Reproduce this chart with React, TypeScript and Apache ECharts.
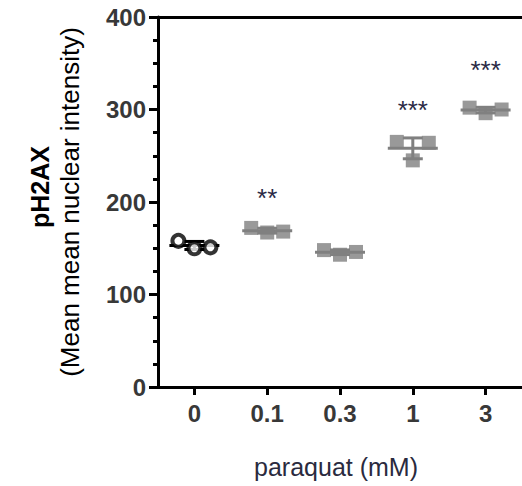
import React, { useEffect, useRef } from "react";
import * as echarts from "echarts";

const categories = ["0", "0.1", "0.3", "1", "3"];
const rep1 = [158, 172, 148, 265, 302];
const rep2 = [150, 167, 143, 245, 296];
const rep3 = [151, 168, 146, 264, 300];
const significance = ["", "**", "", "***", "***"];
const sigLevel = [0, 204, 0, 300, 343];
const yMin = 0;
const yMax = 400;
const yInterval = 100;

const FONT = "'Liberation Sans', Arial, sans-serif";

function stats(i: number) {
  const v = [rep1[i], rep2[i], rep3[i]];
  const m = v.reduce((a, b) => a + b, 0) / v.length;
  const sd = Math.sqrt(v.reduce((a, b) => a + (b - m) * (b - m), 0) / (v.length - 1));
  return [i, m, sd];
}

function pointItem(v: number, i: number) {
  if (i === 0) {
    return {
      value: v,
      symbol: "circle",
      symbolSize: 12,
      itemStyle: { color: "#ffffff", borderColor: "#000000", borderWidth: 4 },
    };
  }
  return {
    value: v,
    symbol: "rect",
    symbolSize: 14,
    itemStyle: { color: "#808080" },
  };
}

export default function App() {
  const ref = useRef<HTMLDivElement>(null);
  useEffect(() => {
    if (!ref.current) return;
    const chart = echarts.init(ref.current, undefined, { renderer: "svg" });
    const reps = [rep1, rep2, rep3];
    const offsets = [-16, 0, 16];
    const scatterSeries = reps.map((r, k) => ({
      type: "scatter",
      xAxisIndex: 0,
      yAxisIndex: 0,
      symbolOffset: [offsets[k], 0],
      data: r.map((v, i) => pointItem(v, i)),
      z: 4,
    }));
    chart.setOption({
      animation: false,
      grid: { left: 158, top: 17, width: 369, height: 370, containLabel: false },
      xAxis: [
        {
          type: "category",
          data: categories,
          boundaryGap: true,
          axisLine: { show: true, lineStyle: { color: "#000", width: 3 } },
          axisTick: { show: true, alignWithLabel: true, length: 8, lineStyle: { color: "#000", width: 3 } },
          axisLabel: { fontFamily: FONT, fontWeight: "bold", fontSize: 24, color: "#383838", margin: 14 },
          splitLine: { show: false },
        },
        {
          type: "category",
          data: categories,
          position: "top",
          axisLine: { show: true, lineStyle: { color: "#000", width: 3 } },
          axisTick: { show: false },
          axisLabel: { show: false },
          splitLine: { show: false },
        },
      ],
      yAxis: {
        type: "value",
        min: yMin,
        max: yMax,
        interval: yInterval,
        axisLine: { show: true, lineStyle: { color: "#000", width: 3 } },
        axisTick: { show: true, length: 9, lineStyle: { color: "#000", width: 3 } },
        minorTick: { show: true, splitNumber: 4, length: 5, lineStyle: { color: "#000", width: 3 } },
        axisLabel: { fontFamily: FONT, fontWeight: "bold", fontSize: 24, color: "#383838", margin: 12 },
        splitLine: { show: false },
        minorSplitLine: { show: false },
      },
      graphic: [
        {
          type: "text",
          x: 40,
          y: 187,
          rotation: Math.PI / 2,
          style: {
            text: "pH2AX",
            fontFamily: FONT,
            fontWeight: "bold",
            fontSize: 25,
            fill: "#000",
            align: "center",
            verticalAlign: "middle",
          },
        },
        {
          type: "text",
          x: 70,
          y: 202,
          rotation: Math.PI / 2,
          style: {
            text: "(Mean mean nuclear intensity)",
            fontFamily: FONT,
            fontSize: 26,
            fill: "#000",
            align: "center",
            verticalAlign: "middle",
          },
        },
        {
          type: "text",
          x: 336,
          y: 467,
          style: {
            text: "paraquat (mM)",
            fontFamily: FONT,
            fontSize: 25,
            fill: "#2a2a3e",
            align: "center",
            verticalAlign: "middle",
          },
        },
      ],
      series: [
        ...scatterSeries,
        {
          type: "custom",
          xAxisIndex: 0,
          yAxisIndex: 0,
          z: 3,
          data: categories.map((c, i) => stats(i)),
          renderItem: (params: any, api: any) => {
            const i = api.value(0);
            const m = api.value(1);
            const s = api.value(2);
            const pm = api.coord([i, m]);
            const pt = api.coord([i, m + s]);
            const pb = api.coord([i, m - s]);
            const color = i === 0 ? "#000000" : "#808080";
            const st = { stroke: color, lineWidth: 3 };
            return {
              type: "group",
              children: [
                { type: "line", shape: { x1: pm[0] - 25, y1: pm[1], x2: pm[0] + 25, y2: pm[1] }, style: st },
                { type: "line", shape: { x1: pm[0], y1: pt[1], x2: pm[0], y2: pb[1] }, style: st },
                { type: "line", shape: { x1: pm[0] - 10, y1: pt[1], x2: pm[0] + 10, y2: pt[1] }, style: st },
                { type: "line", shape: { x1: pm[0] - 10, y1: pb[1], x2: pm[0] + 10, y2: pb[1] }, style: st },
              ],
            };
          },
        },
        {
          type: "custom",
          xAxisIndex: 0,
          yAxisIndex: 0,
          z: 5,
          data: categories.map((c, i) => [i, sigLevel[i]]),
          renderItem: (params: any, api: any) => {
            const i = params.dataIndex;
            const txt = significance[i];
            if (!txt) return null;
            const p = api.coord([api.value(0), api.value(1)]);
            return {
              type: "text",
              x: p[0],
              y: p[1],
              style: {
                text: txt,
                fontFamily: FONT,
                fontSize: 26,
                fill: "#2a2a45",
                align: "center",
                verticalAlign: "middle",
              },
            };
          },
        },
      ],
    });
    return () => chart.dispose();
  }, []);
  return (
    <div
      ref={ref}
      style={{ position: "absolute", left: 0, top: 0, width: 522, height: 486, background: "#fff" }}
    />
  );
}
